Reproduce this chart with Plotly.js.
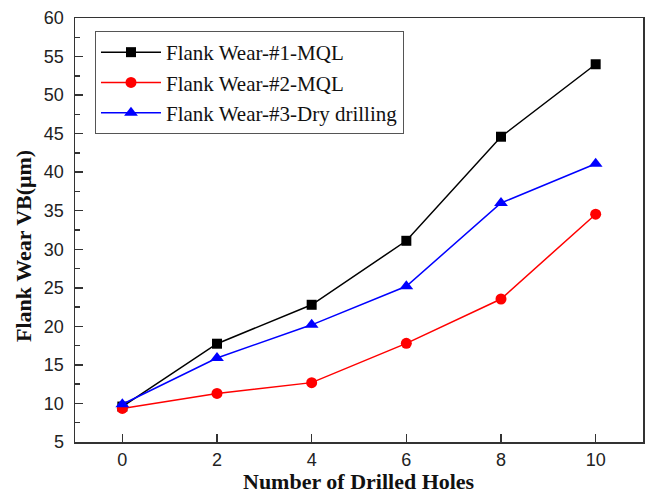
<!DOCTYPE html>
<html>
<head>
<meta charset="utf-8">
<script src="https://cdn.plot.ly/plotly-3.0.1.min.js"></script>
<style>html,body{margin:0;padding:0;background:#fff;}#chart{width:645px;height:494px;}</style>
</head>
<body>
<div id="chart"></div>
<script>
const holes = [0, 2, 4, 6, 8, 10];
const wear1MQL = [9.6, 17.75, 22.8, 31.1, 44.6, 54.0];
const wear2MQL = [9.35, 11.3, 12.7, 17.8, 23.55, 34.55];
const wear3Dry = [9.9, 15.9, 20.2, 25.2, 36.0, 41.1];
const seriesNames = ['Flank Wear-#1-MQL', 'Flank Wear-#2-MQL', 'Flank Wear-#3-Dry drilling'];
const xTitle = 'Number of Drilled Holes';
const yTitle = 'Flank Wear VB(μm)';

const serif = '"Liberation Serif", "Times New Roman", serif';
const traces = [
  {x: holes, y: wear1MQL, name: seriesNames[0], mode: 'lines+markers',
   line: {color: '#000000', width: 1.5}, marker: {symbol: 'square', size: 10, color: '#000000'}},
  {x: holes, y: wear2MQL, name: seriesNames[1], mode: 'lines+markers',
   line: {color: '#ff0000', width: 1.5}, marker: {symbol: 'circle', size: 11, color: '#ff0000'}},
  {x: holes, y: wear3Dry, name: seriesNames[2], mode: 'lines+markers',
   line: {color: '#0000ff', width: 1.5}, marker: {symbol: 'triangle-up', size: 12, color: '#0000ff'}}
];

const tickFont = {family: '"Liberation Sans", Arial, sans-serif', size: 18, color: '#222'};
const layout = {
  width: 645, height: 494,
  margin: {l: 75, r: 2, t: 18, b: 52},
  paper_bgcolor: '#fff', plot_bgcolor: '#fff',
  font: {family: serif},
  showlegend: true,
  legend: {x: 0.0352, y: 0.9693, xanchor: 'left', yanchor: 'top',
    bordercolor: '#555', borderwidth: 1, bgcolor: '#fff',
    font: {family: serif, size: 21, color: '#111'},
    itemwidth: 60, tracegroupgap: 0},
  xaxis: {range: [-1, 11], dtick: 2, tick0: 0, showgrid: false, zeroline: false,
    showline: true, linecolor: '#333', linewidth: 1.5, mirror: true,
    ticks: 'inside', ticklen: 8, tickwidth: 1.5, tickcolor: '#333',
    ticklabelstandoff: 1, tickfont: tickFont},
  yaxis: {range: [5, 60], dtick: 5, tick0: 5, showgrid: false, zeroline: false,
    showline: true, linecolor: '#333', linewidth: 1.5, mirror: true,
    ticks: 'inside', ticklen: 8, tickwidth: 1.5, tickcolor: '#333',
    minor: {dtick: 2.5, ticks: 'inside', ticklen: 5, tickwidth: 1.5, tickcolor: '#333', showgrid: false},
    ticklabelstandoff: 6, tickfont: tickFont},
  annotations: [
    {text: '<b>' + xTitle + '</b>', xref: 'paper', yref: 'paper', x: 0.5, y: -0.092,
     xanchor: 'center', yanchor: 'middle', showarrow: false,
     font: {family: serif, size: 22, color: '#111'}},
    {text: '<b>' + yTitle + '</b>', xref: 'paper', yref: 'paper', x: -0.0898, y: 0.4623,
     xanchor: 'center', yanchor: 'middle', textangle: -90, showarrow: false,
     font: {family: serif, size: 22, color: '#111'}}
  ]
};
Plotly.newPlot('chart', traces, layout, {displayModeBar: false, staticPlot: true});
</script>
</body>
</html>
